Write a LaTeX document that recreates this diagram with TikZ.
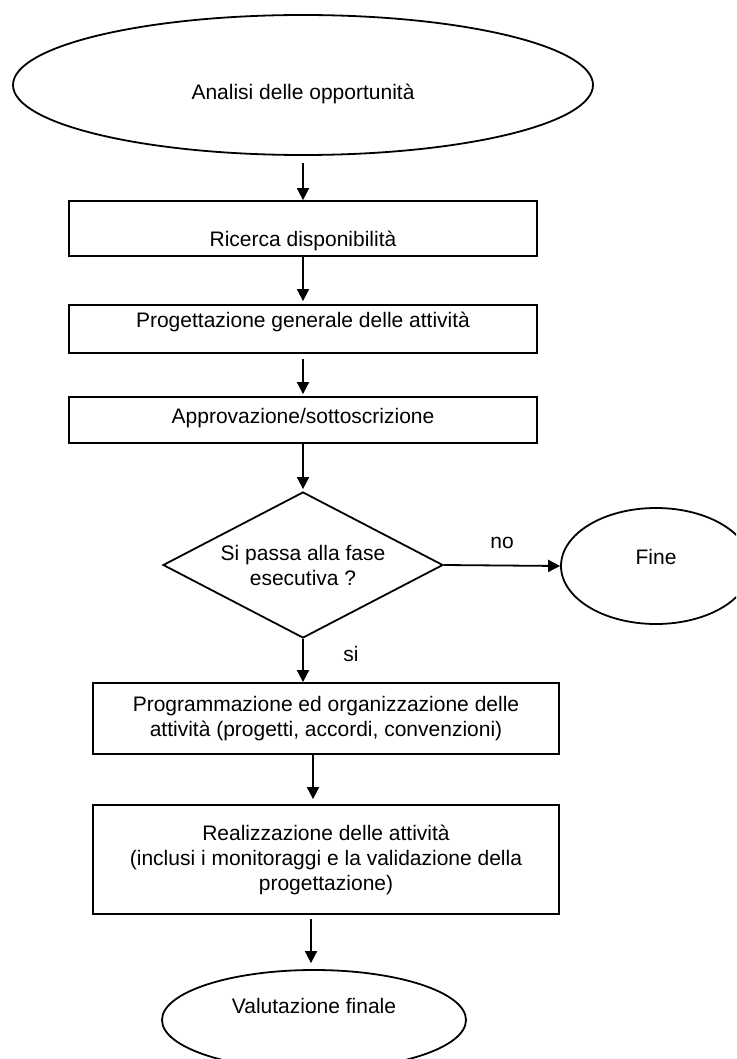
\documentclass[tikz,border=0pt]{standalone}
\usepackage{fontspec}
\setmainfont{Liberation Sans}
\usetikzlibrary{shapes.geometric,arrows.meta}

\begin{document}
\begin{tikzpicture}[x=1pt,y=-1pt,
  every node/.style={font=\fontsize{21}{25}\selectfont},
  blocco/.style={draw, line width=1.8pt, rectangle, inner sep=0pt, align=center},
  ovale/.style={draw, line width=1.8pt, ellipse, inner sep=0pt},
  freccia/.style={line width=1.8pt, -{Triangle[width=12pt,length=12pt]}}]
  \clip (0,0) rectangle (736,1059);
  % fasi
  \node[ovale, minimum width=580pt, minimum height=140pt, text height=40pt, text depth=10pt] (analisi) at (303,85) {Analisi delle opportunità};
  \node[blocco, minimum width=468pt, text height=46pt, text depth=9pt] (ricerca) at (303,228.5) {Ricerca disponibilità};
  \node[blocco, minimum width=468pt, text height=22pt, text depth=26pt] (progettazione) at (303,329) {Progettazione generale delle attività};
  \node[blocco, minimum width=468pt, text height=26pt, text depth=20pt] (approvazione) at (303,420) {Approvazione/sottoscrizione};
  \node[draw, line width=1.8pt, diamond, aspect=1.92, inner sep=0pt, minimum width=280pt, minimum height=146pt, align=center] (decisione) at (303,565) {Si passa alla fase\\esecutiva ?};
  \node[ovale, minimum width=190pt, minimum height=116pt, text height=18pt, text depth=22pt] (fine) at (656,566) {Fine};
  \node[blocco, minimum width=466pt, minimum height=71pt] (programmazione) at (326,718.5) {Programmazione ed organizzazione delle\\attività (progetti, accordi, convenzioni)};
  \node[blocco, minimum width=466pt, minimum height=109pt] (realizzazione) at (326,859.5) {Realizzazione delle attività\\(inclusi i monitoraggi e la validazione della\\progettazione)};
  \node[ovale, minimum width=304pt, minimum height=100pt, text height=20pt, text depth=34pt] (valutazione) at (314,1020) {Valutazione finale};
  % frecce
  \draw[freccia] ([yshift=-7pt]analisi.south) -- (ricerca.north);
  \draw[freccia] (ricerca.south) -- ([yshift=3pt]progettazione.north);
  \draw[freccia] ([yshift=-5pt]progettazione.south) -- ([yshift=2pt]approvazione.north);
  \draw[freccia] (approvazione.south) -- ([yshift=2pt]decisione.north);
  \draw[freccia] (decisione.east) -- node[midway, yshift=23pt] {no} (fine.west);
  \draw[freccia] (decisione.south) -- node[pos=0.35, xshift=48pt] {si} (decisione.south |- programmazione.north);
  \draw[freccia] ([xshift=-13pt]programmazione.south) -- ([xshift=-13pt,yshift=5pt]realizzazione.north);
  \draw[freccia] ([xshift=-15pt,yshift=-4pt]realizzazione.south) -- ([xshift=-3pt,yshift=6pt]valutazione.north);
\end{tikzpicture}
\end{document}
